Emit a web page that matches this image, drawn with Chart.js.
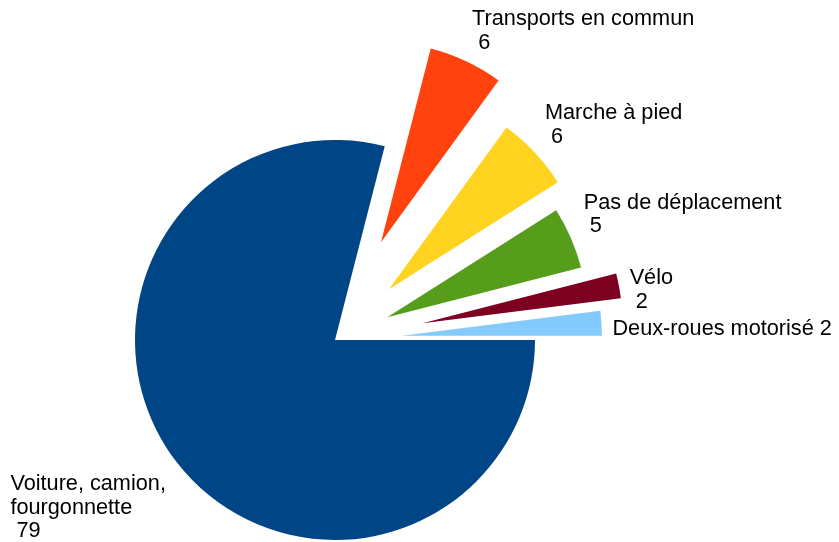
<!DOCTYPE html>
<html>
<head>
<meta charset="utf-8">
<script src="https://cdn.jsdelivr.net/npm/chart.js@4"></script>
<style>
  html, body { margin: 0; padding: 0; background: #ffffff; }
  canvas { display: block; }
</style>
</head>
<body>
<canvas id="c" width="839" height="542"></canvas>
<script>
// ---- data ----
const categories = ['Voiture, camion, fourgonnette', 'Transports en commun', 'Marche à pied', 'Pas de déplacement', 'Vélo', 'Deux-roues motorisé'];
const values = [79, 6, 6, 5, 2, 2];

// ---- style ----
const sliceColors = ['#004586', '#ff420e', '#ffd320', '#579d1c', '#7e0021', '#83caff'];
const explode = [0, 108, 74, 57, 89, 67];          // px distance each slice is pulled out
const valueInline = [false, false, false, false, false, true];
const FONT = '21.7px "Liberation Sans", Arial, sans-serif';
const LH = 23.4, GAP = 14, ASC = 19, CEN = 12.6, WRAP = 235, WORD_SP = 0;

function wrapText(ctx, text, maxW) {
  const words = text.split(' ');
  const lines = [];
  let cur = '';
  for (const w of words) {
    const t = cur ? cur + ' ' + w : w;
    if (cur && ctx.measureText(t).width > maxW) { lines.push(cur); cur = w; }
    else cur = t;
  }
  lines.push(cur);
  return lines;
}

const explodedPie = {
  id: 'explodedPie',
  // Chart.js moves an arc by offset/4 and grows/narrows it; undo the side effects
  afterDatasetUpdate(chart, args) {
    const meta = args.meta;
    const ds = chart.data.datasets[args.index];
    const R = meta.controller.outerRadius;
    meta.data.forEach((el, i) => {
      const T = (ds.offset[i] || 0) / 4;
      const fix = 1 - Math.sin(Math.min(Math.PI, el.circumference || 0));
      const ro = T * fix;
      el.outerRadius = R - ro;
      const widen = ro / (Math.PI * R) / 2;
      el.startAngle -= widen;
      el.endAngle += widen;
    });
  },
  afterDatasetsDraw(chart) {
    const ctx = chart.ctx;
    const meta = chart.getDatasetMeta(0);
    const ds = chart.data.datasets[0];
    const R = meta.controller.outerRadius;
    ctx.save();
    ctx.font = FONT;
    ctx.fillStyle = '#000000';
    ctx.textAlign = 'left';
    ctx.textBaseline = 'alphabetic';
    const hasWS = ('wordSpacing' in ctx);
    const setWS = (px) => { if (hasWS) ctx.wordSpacing = px + 'px'; };
    meta.data.forEach((el, i) => {
      const mid = (el.startAngle + el.endAngle) / 2;
      const T = (ds.offset[i] || 0) / 4;
      const cx = el.x + Math.cos(mid) * T, cy = el.y + Math.sin(mid) * T;
      const r = R + GAP;
      const ax = cx + Math.cos(mid) * r, ay = cy + Math.sin(mid) * r;
      setWS(WORD_SP);
      const lines = wrapText(ctx, chart.data.labels[i], WRAP).map(t => ({t, ws: WORD_SP}));
      const v = String(ds.data[i]);
      if (valueInline[i]) lines[lines.length - 1].t += ' ' + v;
      else lines.push({t: ' ' + v, ws: 0});
      let w = 0;
      lines.forEach(l => { setWS(l.ws); w = Math.max(w, ctx.measureText(l.t).width); });
      const n = lines.length;
      const deg = ((-mid * 180 / Math.PI) % 360 + 360) % 360;
      let x0, base;
      const leftSide = deg > 112.5 && deg < 247.5;
      const vert = (deg >= 67.5 && deg <= 112.5) || (deg >= 247.5 && deg <= 292.5);
      if (leftSide) x0 = ax - w; else if (vert) x0 = ax - w / 2; else x0 = ax;
      if (deg >= 22.5 && deg < 157.5) base = ay - (n - 1) * LH;
      else if (deg >= 202.5 && deg < 337.5) base = ay + ASC;
      else { base = ay + CEN - (n - 1) * LH / 2; x0 += leftSide ? 3 : -3; }
      lines.forEach((l, k) => { setWS(l.ws); ctx.fillText(l.t, x0, base + k * LH); });
    });
    ctx.restore();
  }
};

new Chart(document.getElementById('c'), {
  type: 'pie',
  data: {
    labels: categories,
    datasets: [{
      data: values,
      backgroundColor: sliceColors,
      borderWidth: 0,
      offset: explode.map(d => d * 4),
      hoverOffset: 0,
      clip: false
    }]
  },
  options: {
    responsive: false,
    animation: false,
    events: [],
    devicePixelRatio: 1,
    rotation: 90,
    radius: 200,
    cutout: '0%',
    layout: { padding: { left: 0, right: 169, top: 138, bottom: 0 } },
    plugins: {
      legend: { display: false },
      tooltip: { enabled: false },
      title: { display: false }
    }
  },
  plugins: [explodedPie]
});
</script>
</body>
</html>
